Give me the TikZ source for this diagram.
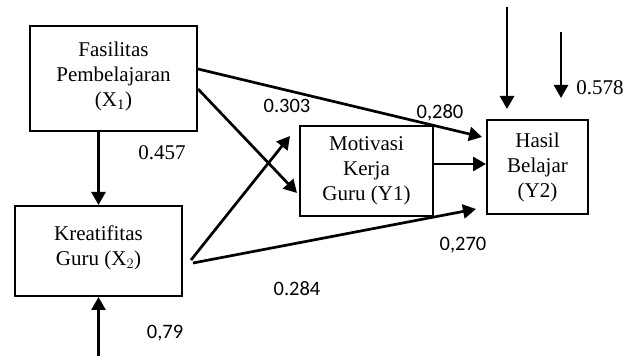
\documentclass[tikz,border=0pt]{standalone}
\usepackage{fontspec}
\setmainfont{Liberation Serif}
\newfontfamily\numfont{Carlito}
\usepackage{tikz}
\usetikzlibrary{arrows.meta,positioning,calc}
\tikzset{
  varbox/.style={draw, rectangle, line width=2pt, inner sep=0pt, align=center, font=\fontsize{21}{25}\selectfont},
  path/.style={-{Triangle[length=13pt,width=14pt]}, line width=2.7pt},
  coef/.style={font=\fontsize{20.5}{24}\selectfont\numfont},
  coefs/.style={font=\fontsize{21}{24}\selectfont}
}
\begin{document}
\begin{tikzpicture}[x=1pt,y=-1pt]
  \useasboundingbox (0,0) rectangle (638,358);
  \node[varbox, minimum width=167pt, minimum height=105pt, text depth=9pt] (x1) at (113.5,78.5) {Fasilitas\\Pembelajaran\\(X\textsubscript{1})};
  \node[varbox, minimum width=167pt, minimum height=90pt, text depth=11pt] (x2) at (98.5,251) {Kreatifitas\\Guru (X$_2$)};
  \node[varbox, minimum width=133pt, minimum height=90pt] (y1) at (366.5,171) {Motivasi\\Kerja\\Guru (Y1)};
  \node[varbox, minimum width=101pt, minimum height=94pt] (y2) at (537.5,167) {Hasil\\Belajar\\(Y2)};
  \coordinate (e1) at (98.5,356);
  \coordinate (e2) at (507,7);
  \coordinate (e3) at (561,32);
  \draw[path] (x2.north |- x1.south) -- (x2.north);
  \draw[path] (e1) -- (e1 |- x2.south);
  \draw[path, shorten >=10pt] (e2) -- (e2 |- y2.north);
  \draw[path, shorten >=21pt] (e3) -- (e3 |- y2.north);
  \draw[path] ([yshift=9.5pt]x1.east) -- ([xshift=-4pt,yshift=30pt]y2.west);
  \draw[path] ([yshift=-10.5pt]x1.east) -- ([xshift=-2pt,yshift=-22pt]y1.west);
  \draw[path] ([xshift=8pt,yshift=-9pt]x2.east) -- ([xshift=-9pt,yshift=35pt]y1.west);
  \draw[path] ([xshift=10pt,yshift=-12pt]x2.east) -- ([xshift=-10pt,yshift=-42pt]y2.west);
  \draw[path] ([yshift=7pt]y1.east) -- ([yshift=7pt]y1.east -| y2.west);
  \node[coefs] (p21) at (162,153) {0.457};
  \node[coef] (p31) at (287,106) {0.303};
  \node[coef] (p41) at (440,113) {0,280};
  \node[coef] (p32) at (297,289) {0.284};
  \node[coef] (p42) at (463,245) {0,270};
  \node[coef] (r2) at (165,333) {0,79};
  \node[coefs] (r4) at (600,88) {0.578};
\end{tikzpicture}
\end{document}
